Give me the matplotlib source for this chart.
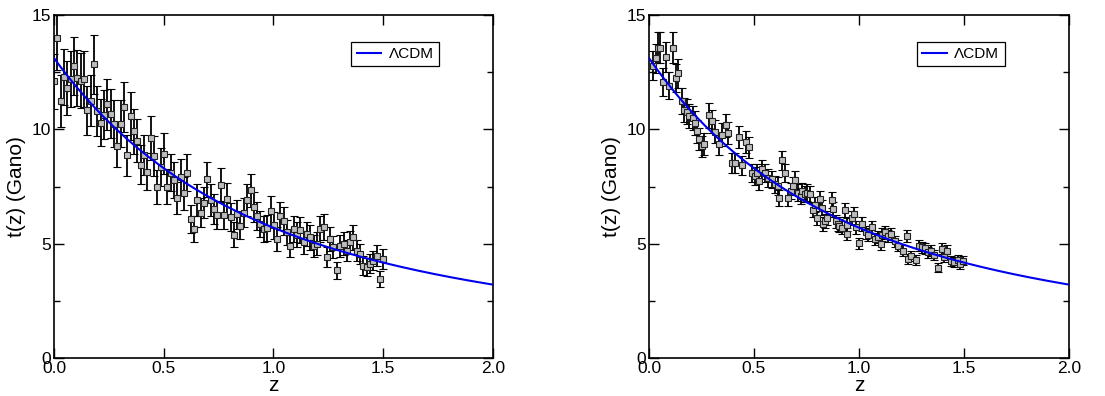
import numpy as np
import matplotlib
matplotlib.use("Agg")
import matplotlib.pyplot as plt
from matplotlib.ticker import MultipleLocator

plt.rcParams['font.family'] = ['Liberation Sans', 'DejaVu Sans']

# left panel: simulated ages (Gyr) vs redshift
z_left = [0.000, 0.015, 0.030, 0.046, 0.061, 0.076, 0.091, 0.106, 0.122, 0.137,
          0.152, 0.167, 0.182, 0.198, 0.213, 0.228, 0.243, 0.258, 0.273, 0.289,
          0.304, 0.319, 0.334, 0.349, 0.364, 0.380, 0.395, 0.410, 0.425, 0.440,
          0.456, 0.471, 0.486, 0.501, 0.516, 0.532, 0.547, 0.562, 0.577, 0.592,
          0.607, 0.623, 0.638, 0.653, 0.668, 0.683, 0.698, 0.714, 0.729, 0.744,
          0.759, 0.774, 0.790, 0.805, 0.820, 0.835, 0.850, 0.866, 0.881, 0.896,
          0.911, 0.926, 0.941, 0.957, 0.972, 0.987, 1.002, 1.017, 1.032, 1.047,
          1.062, 1.077, 1.092, 1.108, 1.123, 1.138, 1.153, 1.168, 1.183, 1.198,
          1.214, 1.229, 1.244, 1.259, 1.274, 1.289, 1.304, 1.320, 1.335, 1.350,
          1.365, 1.380, 1.395, 1.410, 1.426, 1.441, 1.456, 1.471, 1.486, 1.501]
t_left = [12.10, 14.00, 11.25, 12.30, 11.80, 12.20, 12.77, 12.26, 12.13, 12.19,
          10.83, 11.26, 12.85, 10.80, 10.30, 10.64, 11.09, 10.68, 10.25, 9.29,
          10.25, 10.96, 8.86, 10.57, 9.91, 9.51, 8.46, 8.87, 8.14, 9.62,
          8.83, 7.49, 8.36, 8.94, 7.50, 8.10, 7.78, 7.00, 7.91, 7.20,
          8.10, 6.07, 5.64, 6.90, 6.36, 6.80, 7.81, 6.90, 6.51, 6.26,
          7.57, 6.26, 6.94, 6.17, 5.39, 6.29, 5.78, 6.36, 6.90, 7.33,
          6.61, 6.22, 5.86, 5.64, 5.68, 6.43, 5.80, 5.20, 6.22, 6.00,
          5.49, 4.91, 5.64, 5.39, 5.59, 5.06, 5.42, 5.27, 4.91, 4.99,
          5.64, 5.71, 4.41, 5.20, 4.84, 3.83, 4.91, 4.99, 4.70, 5.06,
          5.27, 4.70, 4.55, 4.04, 3.97, 4.12, 4.26, 4.48, 3.47, 4.33]
rel_err_left = 0.10

# right panel
z_right = [0.020, 0.032, 0.041, 0.052, 0.065, 0.081, 0.095, 0.113, 0.129, 0.140,
           0.159, 0.168, 0.180, 0.190, 0.208, 0.219, 0.227, 0.240, 0.254, 0.264,
           0.286, 0.301, 0.315, 0.333, 0.349, 0.365, 0.378, 0.397, 0.410, 0.429,
           0.441, 0.462, 0.476, 0.489, 0.505, 0.516, 0.525, 0.537, 0.552, 0.568,
           0.584, 0.600, 0.616, 0.620, 0.632, 0.648, 0.663, 0.675, 0.684, 0.695,
           0.711, 0.722, 0.730, 0.743, 0.752, 0.767, 0.780, 0.790, 0.801, 0.817,
           0.822, 0.830, 0.840, 0.849, 0.870, 0.878, 0.890, 0.901, 0.906, 0.920,
           0.933, 0.941, 0.944, 0.965, 0.976, 0.985, 1.001, 1.013, 1.033, 1.045,
           1.060, 1.076, 1.090, 1.103, 1.110, 1.124, 1.140, 1.155, 1.170, 1.187,
           1.208, 1.227, 1.235, 1.250, 1.271, 1.287, 1.300, 1.315, 1.330, 1.345,
           1.360, 1.378, 1.394, 1.405, 1.420, 1.440, 1.455, 1.470, 1.481, 1.497]
t_right = [12.78, 13.10, 13.57, 13.57, 12.06, 13.17, 11.91, 13.57, 12.23, 12.45,
           11.25, 10.85, 10.78, 10.57, 10.49, 10.27, 9.91, 9.59, 9.26, 9.36,
           10.61, 10.35, 9.90, 9.36, 9.77, 10.17, 9.84, 8.54, 8.54, 9.65,
           8.43, 9.45, 9.22, 8.10, 7.96, 8.10, 7.74, 8.25, 8.10, 7.88,
           7.81, 7.60, 7.52, 7.01, 8.64, 8.10, 6.99, 7.30, 7.52, 7.77,
           7.23, 7.09, 7.30, 7.16, 7.23, 7.16, 6.47, 6.70, 6.14, 6.94,
           6.58, 5.86, 6.00, 6.14, 6.90, 6.51, 5.97, 5.86, 5.78, 5.70,
           6.47, 5.42, 5.83, 6.14, 6.29, 5.71, 5.01, 5.86, 5.49, 5.40,
           5.71, 5.20, 5.30, 4.99, 5.40, 5.49, 5.35, 5.42, 5.10, 4.91,
           4.70, 5.35, 4.33, 4.45, 4.29, 4.91, 4.85, 4.80, 4.62, 4.70,
           4.50, 3.94, 4.77, 4.40, 4.70, 4.25, 4.20, 4.30, 4.12, 4.26]
rel_err_right = 0.05

# flat LCDM model curve
H0 = 74.0   # km/s/Mpc
Om = 0.27
OL = 1.0 - Om
hubble_time = 977.8 / H0  # Gyr
z_model = np.linspace(0, 2, 300)
t_model = (2.0 / (3.0 * np.sqrt(OL))) * hubble_time * \
    np.arcsinh(np.sqrt(OL / Om) * (1 + z_model) ** -1.5)

fig = plt.figure(figsize=(11.05, 3.96), dpi=100)
ax1 = fig.add_axes([0.0489, 0.096, 0.397, 0.866])
ax2 = fig.add_axes([0.5873, 0.096, 0.380, 0.866])

panels = [(ax1, z_left, t_left, rel_err_left, (0.895, 0.945)),
          (ax2, z_right, t_right, rel_err_right, (0.865, 0.945))]

for ax, z, t, rel, leg_pos in panels:
    z = np.array(z)
    t = np.array(t)
    ax.errorbar(z, t, yerr=rel * t, fmt='s', ms=4.0, mfc='#bdbdbd', mec='#222222',
                mew=0.8, ecolor='black', elinewidth=1.3, capsize=3.2, capthick=1.3,
                zorder=2)
    ax.plot(z_model, t_model, color='#0000ee', lw=1.5, label='ΛCDM', zorder=3)
    ax.set_xlim(0, 2)
    ax.set_ylim(0, 15)
    ax.set_xticks([0, 0.5, 1.0, 1.5, 2.0])
    ax.set_xticklabels(['0.0', '0.5', '1.0', '1.5', '2.0'])
    ax.set_yticks([0, 5, 10, 15])
    ax.yaxis.set_minor_locator(MultipleLocator(2.5))
    ax.tick_params(which='both', direction='in', top=True, right=True,
                   labelsize=12.5, pad=2)
    ax.tick_params(which='major', length=7, width=1.0)
    ax.tick_params(which='minor', length=4, width=1.0)
    for s in ax.spines.values():
        s.set_linewidth(1.2)
    ax.set_xlabel('z', fontsize=15, labelpad=0)
    ax.set_ylabel('t(z) (Gano)', fontsize=15, labelpad=4)
    leg = ax.legend(loc='upper right', bbox_to_anchor=leg_pos, fontsize=11,
                    fancybox=False, framealpha=1, edgecolor='black',
                    handlelength=1.6, borderpad=0.35, handletextpad=0.5)
    leg.get_frame().set_linewidth(0.9)

fig.savefig('out.png', dpi=100)
